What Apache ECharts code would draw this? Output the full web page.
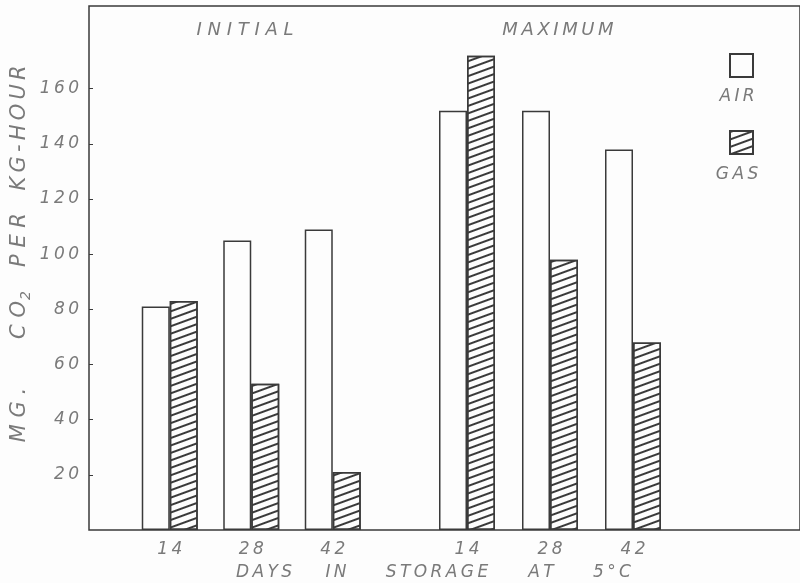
<!DOCTYPE html>
<html>
<head>
<meta charset="utf-8">
<script src="https://cdn.jsdelivr.net/npm/echarts@6/dist/echarts.min.js"></script>
<style>
  html, body { margin: 0; padding: 0; background: #fdfdfd; }
  #chart { width: 800px; height: 583px; }
</style>
</head>
<body>
<div id="chart"></div>
<script>
// data
var days = ['14', '28', '42'];
var initialAir = [81, 105, 109];
var initialGas = [83, 53, 21];
var maximumAir = [152, 152, 138];
var maximumGas = [172, 98, 68];
var yTicks = [20, 40, 60, 80, 100, 120, 140, 160];

var ink = '#3a3a3a';
var letter = '#7a7a7a';
var font = 'DejaVu Sans';

// spread letters apart like the hand lettering
function spaced(s, sep) {
  return s.split('').join(sep || '\u2009');
}

var hatch = {
  symbol: 'rect',
  symbolSize: 1,
  dashArrayX: [1, 0],
  dashArrayY: [1.3, 4.4],
  rotation: -0.35,
  color: ink
};

var airStyle = { color: '#fdfdfd', borderColor: ink, borderWidth: 1.5 };
var gasStyle = { color: '#fdfdfd', borderColor: ink, borderWidth: 1.5, decal: hatch };

var hiddenY = function (i) {
  return { type: 'value', gridIndex: i, min: 0, max: 190, show: false };
};
var dayAxis = function (i) {
  return {
    type: 'category', gridIndex: i, data: days,
    axisLine: { show: false }, axisTick: { show: false },
    axisLabel: {
      margin: 11, color: letter, fontSize: 17, fontStyle: 'italic', fontFamily: font,
      formatter: function (v) { return spaced(v); }
    }
  };
};

function word(text, x, y, size, sep, rot) {
  return {
    type: 'text', x: x, y: y, rotation: rot || 0,
    style: {
      text: spaced(text, sep), fill: letter, font: 'italic ' + (size || 17) + 'px "' + font + '"',
      align: 'center', verticalAlign: 'middle'
    }
  };
}

var chart = echarts.init(document.getElementById('chart'));
var option = {
  backgroundColor: '#fdfdfd',
  animation: false,
  grid: [
    { left: 89, top: 6, right: -10, bottom: 53, show: true, borderColor: ink, borderWidth: 1.5 },
    { left: 129, width: 244.5, top: 6, bottom: 53 },
    { left: 425.5, width: 249, top: 6, bottom: 53 }
  ],
  xAxis: [
    { type: 'category', gridIndex: 0, show: false, data: [] },
    dayAxis(1),
    dayAxis(2)
  ],
  yAxis: [
    {
      type: 'value', gridIndex: 0, min: 0, max: 190, interval: 10,
      splitLine: { show: false },
      axisLine: { show: false },
      axisTick: { show: true, inside: true, length: 4, lineStyle: { color: ink }, customValues: yTicks },
      axisLabel: {
        margin: 10, color: letter, fontSize: 17, fontStyle: 'italic', fontFamily: font,
        customValues: yTicks,
        formatter: function (v) { return spaced(String(v)); }
      }
    },
    hiddenY(1),
    hiddenY(2)
  ],
  legend: {
    orient: 'vertical', left: 724, top: 48,
    itemWidth: 23, itemHeight: 23, itemGap: 52,
    icon: 'rect',
    formatter: function () { return ''; },
    selectedMode: false,
    data: ['AIR', 'GAS']
  },
  series: [
    { name: 'AIR', type: 'bar', xAxisIndex: 1, yAxisIndex: 1, barWidth: 28, barGap: '0%', itemStyle: airStyle, data: initialAir },
    { name: 'GAS', type: 'bar', xAxisIndex: 1, yAxisIndex: 1, barWidth: 28, barGap: '0%', itemStyle: gasStyle, data: initialGas },
    { name: 'AIR', type: 'bar', xAxisIndex: 2, yAxisIndex: 2, barWidth: 28, barGap: '0%', itemStyle: airStyle, data: maximumAir },
    { name: 'GAS', type: 'bar', xAxisIndex: 2, yAxisIndex: 2, barWidth: 28, barGap: '0%', itemStyle: gasStyle, data: maximumGas }
  ],
  graphic: [
    word('INITIAL', 245, 30, 18, ' '),
    word('MAXIMUM', 558, 30, 18),
    word('AIR', 737, 97),
    word('GAS', 737, 175),
    word('DAYS', 264, 573),
    word('IN', 336, 573),
    word('STORAGE', 437, 573),
    word('AT', 541, 573),
    word('5°C', 612, 573),
    // vertical axis title, word by word
    word('KG-HOUR', 20, 128, 21, '\u2009', Math.PI / 2),
    word('PER', 20, 240, 21, ' ', Math.PI / 2),
    {
      type: 'text', x: 20, y: 315, rotation: Math.PI / 2,
      style: {
        text: '{a|' + spaced('CO', ' ') + '}{s|2}',
        align: 'center', verticalAlign: 'middle',
        rich: {
          a: { fill: letter, fontSize: 21, fontStyle: 'italic', fontFamily: font },
          s: { fill: letter, fontSize: 14, fontStyle: 'italic', fontFamily: font, padding: [12, 0, 0, 1] }
        }
      }
    },
    word('MG.', 20, 415, 21, ' ', Math.PI / 2)
  ]
};
chart.setOption(option);
window.addEventListener('resize', function () { chart.resize(); }, false);
</script>
</body>
</html>
